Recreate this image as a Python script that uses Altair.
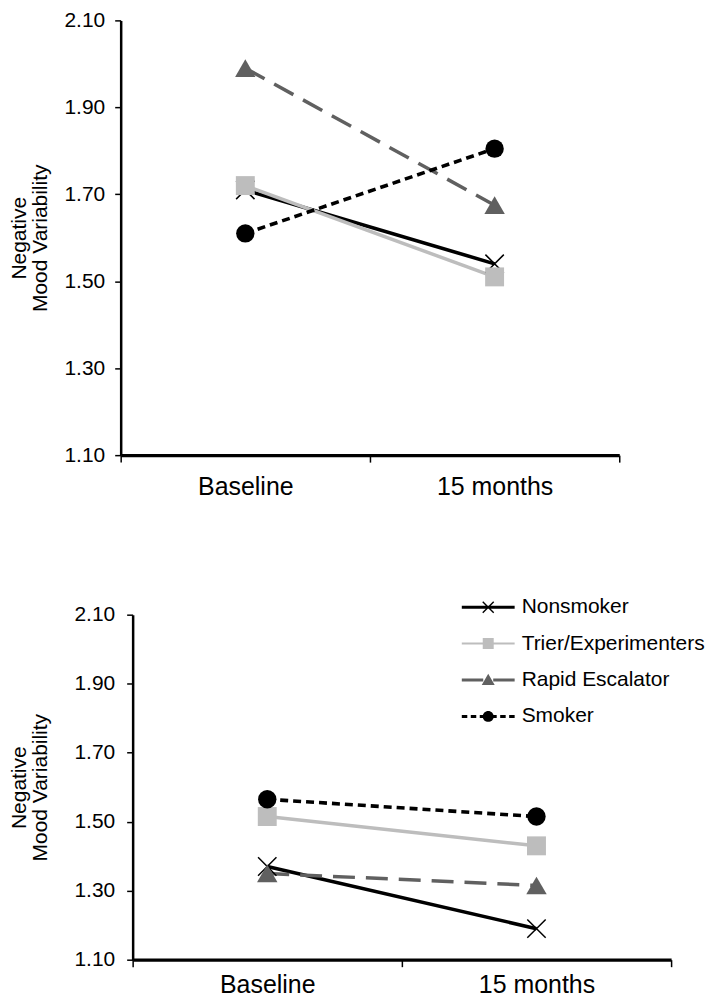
import altair as alt
import pandas as pd

# ---- data ----
series = ["Nonsmoker", "Trier/Experimenters", "Rapid Escalator", "Smoker"]
times = ["Baseline", "15 months"]
top_baseline = [1.71, 1.72, 1.99, 1.61]
top_15months = [1.54, 1.51, 1.675, 1.805]
bottom_baseline = [1.37, 1.515, 1.35, 1.565]
bottom_15months = [1.19, 1.43, 1.315, 1.515]
y_ticks = [1.10, 1.30, 1.50, 1.70, 1.90, 2.10]
y_title = ["Negative", "Mood Variability"]

# ---- styles ----
colors = ["#000000", "#BDBDBD", "#606060", "#000000"]
dashes = [None, None, [22, 11], [8, 5]]
line_widths = [3.6, 3.5, 3.5, 3.6]
point_styles = [
    dict(shape="M-1,-1L1,1M-1,1L1,-1", filled=False, size=340, strokeWidth=1.5),
    dict(shape="square", filled=True, size=360),
    dict(shape="triangle-up", filled=True, size=420),
    dict(shape="circle", filled=True, size=340),
]
FONT = "Liberation Sans"


def frame(base, later):
    rows = []
    for s, b, l in zip(series, base, later):
        rows.append({"series": s, "time": times[0], "value": b})
        rows.append({"series": s, "time": times[1], "value": l})
    return pd.DataFrame(rows)


# legend symbols: line + marker drawn as filled paths (1 unit = 10px)
def rect(x1, x2, h):
    return f"M{x1},{-h}L{x2},{-h}L{x2},{h}L{x1},{h}Z"


X_MARK = ("M-0.5,-0.6L0.6,0.5L0.5,0.6L-0.6,-0.5Z"
          "M-0.6,0.5L0.5,-0.6L0.6,-0.5L-0.5,0.6Z")
legend_paths = [
    rect(-2.65, 2.65, 0.15) + X_MARK,
    rect(-2.65, 2.65, 0.1) + "M-0.55,-0.55L0.55,-0.55L0.55,0.55L-0.55,0.55Z",
    rect(-2.65, -0.5, 0.15) + rect(0.5, 2.65, 0.15) + "M0,-0.62L0.65,0.5L-0.65,0.5Z",
    rect(-2.65, -2.1, 0.15) + rect(-1.75, -1.2, 0.15) + rect(-0.85, -0.3, 0.15)
    + rect(0.3, 0.85, 0.15) + rect(1.2, 1.75, 0.15) + rect(2.1, 2.65, 0.15)
    + "M-0.55,0A0.55,0.55 0 1,1 0.55,0A0.55,0.55 0 1,1 -0.55,0Z",
]


def panel(df, width, height, x_range, y_offset, title_pad, label_pad,
          xlabel_pad, legend=False):
    x = alt.X("time:N", sort=times,
              scale=alt.Scale(type="band", paddingInner=0, paddingOuter=0,
                              range=x_range),
              axis=alt.Axis(title=None, tickBand="extent", labelAngle=0,
                            labelFontSize=25, labelColor="black", labelFont=FONT,
                            labelPadding=xlabel_pad, tickSize=7, tickColor="black",
                            tickWidth=1.5, domainColor="black", domainWidth=3.2,
                            grid=False))
    y = alt.Y("value:Q",
              scale=alt.Scale(domain=[1.1, 2.1], nice=False, zero=False),
              axis=alt.Axis(title=y_title, values=y_ticks, format=".2f",
                            offset=y_offset,
                            labelFontSize=21, labelColor="black", labelFont=FONT,
                            labelPadding=label_pad, tickSize=6, tickColor="black",
                            tickWidth=1.5, domainColor="black", domainWidth=2.5,
                            titleFontSize=21, titleFontWeight="normal",
                            titleColor="black", titleFont=FONT,
                            titlePadding=title_pad, titleLineHeight=21,
                            grid=False))
    base = alt.Chart(df)
    layers = []
    for s, c, d, w in zip(series, colors, dashes, line_widths):
        kw = dict(color=c, strokeWidth=w)
        if d:
            kw["strokeDash"] = d
        layers.append(
            base.transform_filter(alt.datum.series == s)
            .mark_line(**kw).encode(x=x, y=y)
        )
    for s, c, st in zip(series, colors, point_styles):
        layers.append(
            base.transform_filter(alt.datum.series == s)
            .mark_point(opacity=1, color=c, **st)
            .encode(x=x, y=y)
        )
    if legend:
        leg = dict(title=None, orient="none", legendX=358.1, legendY=-18,
                   direction="vertical", labelFontSize=21, labelFont=FONT,
                   labelColor="black", labelOffset=23, rowPadding=14.5,
                   labelLimit=400, symbolSize=400, symbolStrokeWidth=0,
                   padding=0)
        layers.append(
            base.transform_filter("false")
            .mark_point(filled=True, opacity=1)
            .encode(x=x, y=y,
                    color=alt.Color("series:N",
                                    scale=alt.Scale(domain=series, range=colors),
                                    legend=alt.Legend(**leg)),
                    shape=alt.Shape("series:N",
                                    scale=alt.Scale(domain=series,
                                                    range=legend_paths),
                                    legend=alt.Legend(**leg)))
        )
    return alt.layer(*layers).properties(width=width, height=height)


top = panel(frame(top_baseline, top_15months), 500, 436, [0, 500], 0,
            14, 10, 12)
bottom = panel(frame(bottom_baseline, bottom_15months), 552, 346, [12, 552], -12,
               24, 12, 6, legend=True)

chart = alt.vconcat(top, bottom, spacing=98).resolve_scale(
    color="independent", shape="independent"
).properties(
    padding={"left": 0, "top": 0, "right": 0, "bottom": 0}
).configure(font=FONT, background="white").configure_view(stroke=None)

chart.save("out.html", embed_options={"renderer": "svg", "actions": False})
